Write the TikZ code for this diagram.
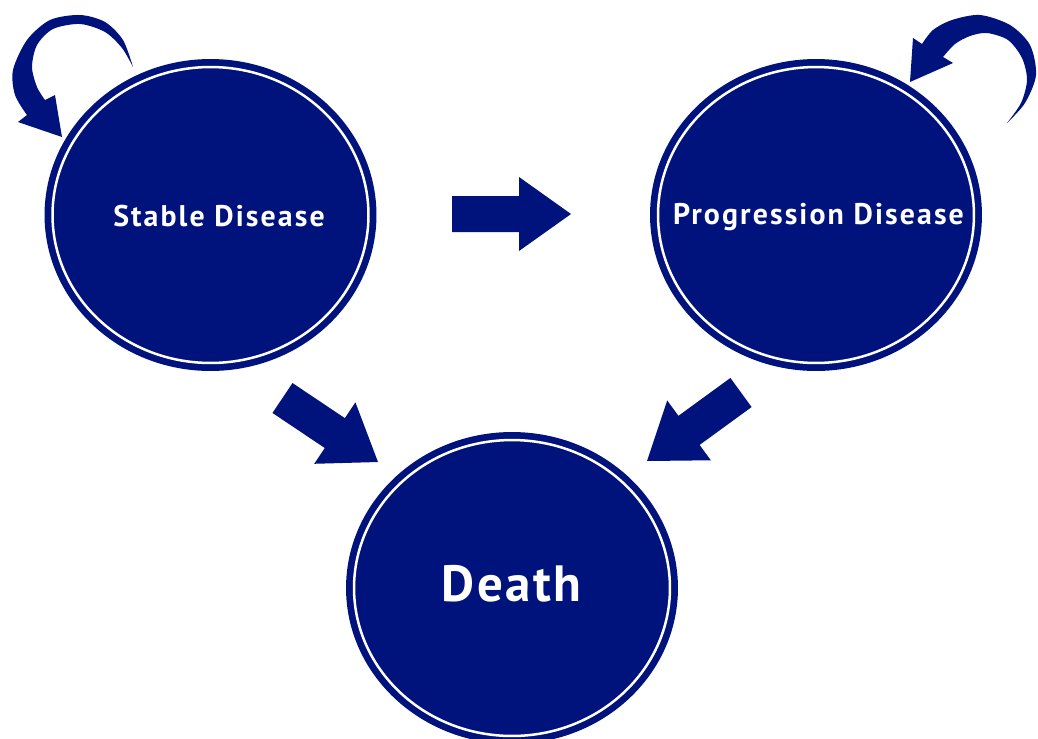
\documentclass[tikz,border=0pt]{standalone}
\usepackage{fontspec}
\setmainfont{PT Sans}
\newfontfamily\statefont{PT Sans}[LetterSpace=7]
\newfontfamily\deathfont{PT Sans}[LetterSpace=5]
\usepackage{tikz}
\usetikzlibrary{calc,shapes.geometric}
\definecolor{mynavy}{RGB}{0,18,123}

% block arrow from tail middle #1 to tip #2
\newcommand{\blockarrow}[2]{%
  \coordinate (hb) at ($(#2)!1.04cm!(#1)$);
  \fill[mynavy] ($(#1)!0.36cm!90:(#2)$) -- ($(hb)!0.36cm!90:(#2)$)
    -- ($(hb)!0.74cm!90:(#2)$) -- (#2) -- ($(hb)!0.74cm!-90:(#2)$)
    -- ($(hb)!0.36cm!-90:(#2)$) -- ($(#1)!0.36cm!-90:(#2)$) -- cycle;
}

\begin{document}
\begin{tikzpicture}[x=0.02cm,y=-0.02cm,
  stagebox/.style={ellipse, fill=mynavy, draw=mynavy, line width=0.135cm,
    double=white, double distance=0.05cm, minimum width=6.32cm,
    minimum height=5.92cm, inner sep=0pt},
  stagetext/.style={anchor=base, text=white, inner sep=0pt}]
  \useasboundingbox (0,0) rectangle (1038,738);

  % States
  \node[stagebox] (sd) at (210.5,215) {};
  \node[stagebox] (pd) at (816,215) {};
  \node[stagebox] (de) at (512,588) {};
  \node[stagetext, font=\statefont\bfseries\fontsize{17}{20}\selectfont] (sdlabel) at (219,226.7) {Stable Disease};
  \node[stagetext, font=\statefont\bfseries\fontsize{17}{20}\selectfont] (pdlabel) at (818.5,224.3) {Progression Disease};
  \node[stagetext, font=\deathfont\bfseries\fontsize{29}{33}\selectfont] (delabel) at (511.5,601.7) {Death};

  % Arrow ends
  \coordinate (sdout) at (452,214);
  \coordinate (pdin) at (571,214);
  \coordinate (sdout2) at (282.5,398);
  \coordinate (dein1) at (378,462);
  \coordinate (pdout) at (741,392.5);
  \coordinate (dein2) at (647,461);

  % Arrows
  \blockarrow{sdout}{pdin}
  \blockarrow{sdout2}{dein1}
  \blockarrow{pdout}{dein2}

  % Stay loops
  \fill[mynavy] plot[smooth] coordinates {(133,67) (123,40) (105,22) (80,15) (50,20) (27,40) (13,70) (15,95) (27,115)}
    -- (18,122) -- (62,137) -- (55,95) -- (45,100)
    -- plot[smooth] coordinates {(45,100) (37,87) (32,67) (37,45) (53,29) (80,24) (105,32) (122,48) (133,67)} -- cycle;
  \fill[mynavy] plot[smooth] coordinates {(1007,123) (1025,103) (1036,75) (1030,45) (1010,25) (980,15) (952,20) (933,30) (922,44)}
    -- (913,38) -- (910,82) -- (953,63) -- (943,57)
    -- plot[smooth] coordinates {(943,57) (955,44) (970,36) (987,33) (1008,40) (1022,58) (1027,80) (1021,103) (1007,123)} -- cycle;
\end{tikzpicture}
\end{document}
